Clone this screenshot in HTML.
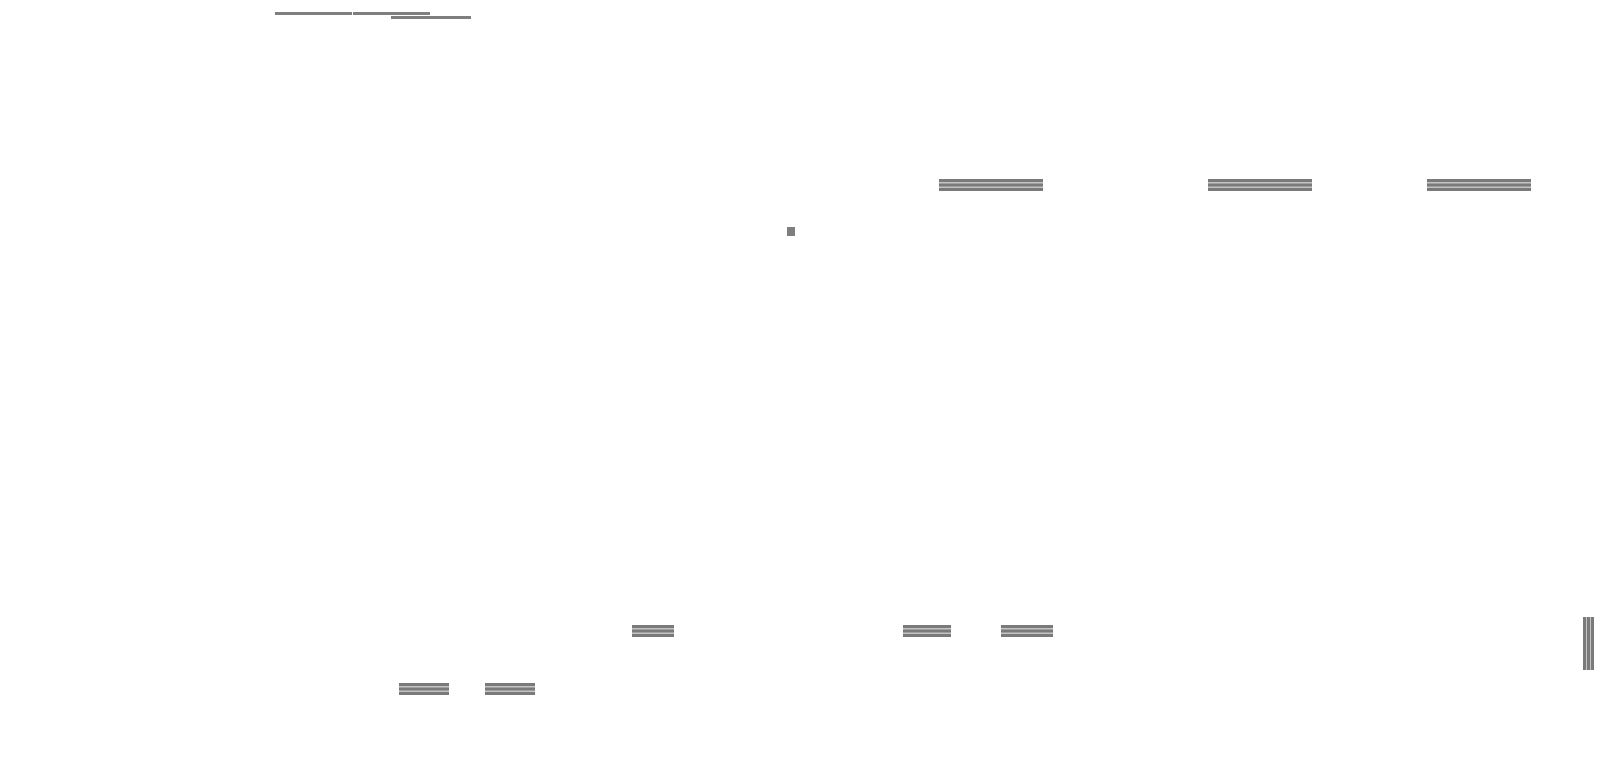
<!DOCTYPE html>
<html><head><style>
body{margin:0;width:1600px;height:758px;background:#fff;position:relative;overflow:hidden}
div{position:absolute}
.l{background:#7f7f7f;height:3px}
.h{height:12px;background:linear-gradient(#7a7a7a 0,#7a7a7a 3px,#c4c4c4 3px,#c4c4c4 4.5px,#7a7a7a 4.5px,#7a7a7a 7.5px,#c4c4c4 7.5px,#c4c4c4 9px,#7a7a7a 9px,#7a7a7a 12px)}
.v{width:11px;background:linear-gradient(90deg,#7a7a7a 0,#7a7a7a 3px,#c4c4c4 3px,#c4c4c4 4px,#7a7a7a 4px,#7a7a7a 7px,#c4c4c4 7px,#c4c4c4 8px,#7a7a7a 8px,#7a7a7a 11px)}
</style></head><body>
<div class="l" style="left:275px;top:12px;width:77px"></div>
<div class="l" style="left:353px;top:12px;width:77px"></div>
<div class="l" style="left:391px;top:16px;width:80px"></div>
<div class="h" style="left:939px;top:179px;width:104px"></div>
<div class="h" style="left:1208px;top:179px;width:104px"></div>
<div class="h" style="left:1427px;top:179px;width:104px"></div>
<div style="left:787px;top:227px;width:8px;height:9px;background:#7f7f7f"></div>
<div class="h" style="left:632px;top:625px;width:42px"></div>
<div class="h" style="left:903px;top:625px;width:48px"></div>
<div class="h" style="left:1001px;top:625px;width:52px"></div>
<div class="h" style="left:399px;top:683px;width:50px"></div>
<div class="h" style="left:485px;top:683px;width:50px"></div>
<div class="v" style="left:1583px;top:617px;height:53px"></div>
</body></html>
